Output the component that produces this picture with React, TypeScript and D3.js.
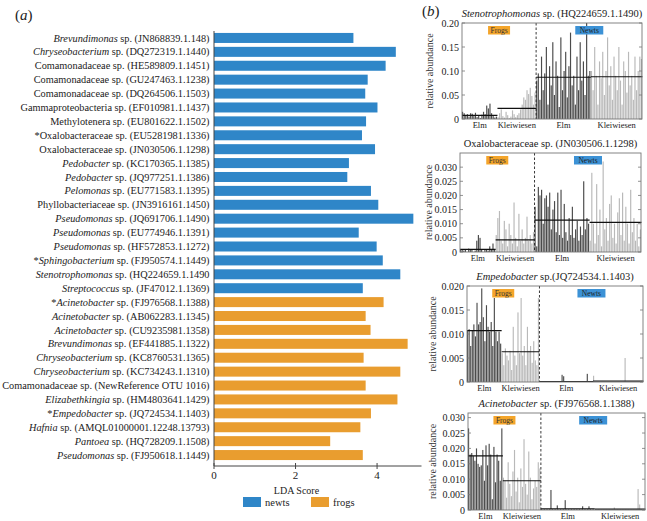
import React from "react";
import * as d3 from "d3";

// ---------- Panel (a) data ----------
const taxonPrefix = ["", "", "", "", "", "", "", "*", "", "", "", "", "", "", "", "", "*", "", "", "*", "", "", "", "", "", "", "", "*", "", "", ""];
const taxonNames = [
  "Brevundimonas", "Chryseobacterium", "Comamonadaceae", "Comamonadaceae", "Comamonadaceae",
  "Gammaproteobacteria", "Methylotenera", "Oxalobacteraceae", "Oxalobacteraceae", "Pedobacter",
  "Pedobacter", "Pelomonas", "Phyllobacteriaceae", "Pseudomonas", "Pseudomonas", "Pseudomonas",
  "Sphingobacterium", "Stenotrophomonas", "Streptococcus",
  "Acinetobacter", "Acinetobacter", "Acinetobacter", "Brevundimonas", "Chryseobacterium",
  "Chryseobacterium", "Comamonadaceae", "Elizabethkingia", "Empedobacter", "Hafnia", "Pantoea", "Pseudomonas",
];
const taxonItalic = [1, 1, 0, 0, 0, 0, 0, 0, 0, 1, 1, 1, 0, 1, 1, 1, 1, 1, 1, 1, 1, 1, 1, 1, 1, 0, 1, 1, 1, 1, 1];
const accessions = [
  "(JN868839.1.148)", "(DQ272319.1.1440)", "(HE589809.1.1451)", "(GU247463.1.1238)", "(DQ264506.1.1503)",
  "(EF010981.1.1437)", "(EU801622.1.1502)", "(EU5281981.1336)", "(JN030506.1.1298)", "(KC170365.1.1385)",
  "(JQ977251.1.1386)", "(EU771583.1.1395)", "(JN3916161.1450)", "(JQ691706.1.1490)", "(EU774946.1.1391)",
  "(HF572853.1.1272)", "(FJ950574.1.1449)", "(HQ224659.1.1490", "(JF47012.1.1369)",
  "(FJ976568.1.1388)", "(AB062283.1.1345)", "(CU9235981.1358)", "(EF441885.1.1322)", "(KC8760531.1365)",
  "(KC734243.1.1310)", "(NewReference OTU 1016)", "(HM4803641.1429)", "(JQ724534.1.1403)",
  "(AMQL01000001.12248.13793)", "(HQ728209.1.1508)", "(FJ950618.1.1449)",
];
const ldaScores = [
  3.42, 4.46, 4.21, 3.77, 3.71, 4.01, 3.73, 3.63, 3.95, 3.31, 3.27, 3.85, 4.03, 4.89, 3.55, 3.99, 4.14, 4.57, 3.65,
  4.16, 3.72, 3.84, 4.75, 3.67, 4.57, 3.72, 4.50, 3.85, 3.59, 2.85, 3.65,
];
const ldaGroup = [
  "newts", "newts", "newts", "newts", "newts", "newts", "newts", "newts", "newts", "newts", "newts", "newts",
  "newts", "newts", "newts", "newts", "newts", "newts", "newts",
  "frogs", "frogs", "frogs", "frogs", "frogs", "frogs", "frogs", "frogs", "frogs", "frogs", "frogs", "frogs",
];
const ldaTicks = [0, 2, 4];
const legendKeys = ["newts", "frogs"];

// ---------- Panel (b) data ----------
const groupNames = ["Elm", "Kleiwiesen", "Elm", "Kleiwiesen"];
const groupSizes = [22, 24, 34, 32];

// Stenotrophomonas sp. (HQ224659.1.1490)
const steno = [
  [0.015, 0.012, 0.008, 0.01, 0.005, 0.012, 0.011, 0.006, 0.013, 0.004, 0.008, 0.002, 0.009, 0.015, 0.01, 0.028, 0.022, 0.032, 0.012, 0.006, 0.003, 0.005],
  [0.004, 0.012, 0.02, 0.006, 0.003, 0.015, 0.008, 0.002, 0.005, 0.018, 0.01, 0.004, 0.008, 0.012, 0.02, 0.03, 0.045, 0.04, 0.06, 0.052, 0.065, 0.048, 0.03, 0.055],
  [0.08, 0.095, 0.04, 0.13, 0.06, 0.095, 0.15, 0.03, 0.11, 0.07, 0.16, 0.05, 0.12, 0.09, 0.025, 0.17, 0.06, 0.1, 0.14, 0.045, 0.11, 0.18, 0.07, 0.09, 0.03, 0.13, 0.06, 0.16, 0.08, 0.12, 0.05, 0.2, 0.09, 0.1],
  [0.1, 0.06, 0.15, 0.09, 0.03, 0.12, 0.085, 0.14, 0.05, 0.1, 0.17, 0.07, 0.11, 0.04, 0.13, 0.09, 0.06, 0.15, 0.08, 0.03, 0.12, 0.1, 0.055, 0.14, 0.07, 0.09, 0.04, 0.13, 0.06, 0.1, 0.13, 0.125],
];
const stenoMeans = [0.0075, 0.022, 0.087, 0.088];

// Oxalobacteraceae sp. (JN030506.1.1298)
const oxalo = [
  [0.001, 0.0008, 0.0005, 0.001, 0, 0.0012, 0.0008, 0.001, 0, 0.0005, 0.004, 0.006, 0.005, 0.001, 0, 0.0008, 0.001, 0.0005, 0.002, 0.001, 0.003, 0.001],
  [0.006, 0.012, 0.0145, 0.004, 0.003, 0.011, 0.008, 0.002, 0.01, 0.006, 0.003, 0.0175, 0.005, 0.002, 0.0135, 0.004, 0.008, 0.003, 0.005, 0.0125, 0.004, 0.006, 0.003, 0.007],
  [0.016, 0.002, 0.023, 0.02, 0.022, 0.01, 0.019, 0.02, 0.016, 0.021, 0.008, 0.015, 0.018, 0.007, 0.021, 0.006, 0.022, 0.005, 0.017, 0.007, 0.004, 0.012, 0.006, 0.016, 0.005, 0.008, 0.011, 0.004, 0.009, 0.006, 0.025, 0.008, 0.012, 0.01],
  [0.004, 0.028, 0.01, 0.003, 0.024, 0.006, 0.015, 0.002, 0.032, 0.008, 0.012, 0.004, 0.017, 0.02, 0.005, 0.01, 0.003, 0.014, 0.019, 0.006, 0.021, 0.004, 0.016, 0.01, 0.003, 0.022, 0.007, 0.012, 0.004, 0.01, 0.002, 0.008],
];
const oxaloMeans = [0.0009, 0.0043, 0.0113, 0.0105];

// Empedobacter sp.(JQ724534.1.1403)
const empedo = [
  [0.0108, 0.011, 0.0075, 0.0108, 0.012, 0.0095, 0.0165, 0.012, 0.0125, 0.0195, 0.0135, 0.0085, 0.016, 0.0115, 0.0105, 0.0125, 0.0075, 0.0175, 0.0105, 0.0085, 0.0105, 0.008],
  [0.006, 0.0035, 0.007, 0.0055, 0.0045, 0.0065, 0.0025, 0.0115, 0.0055, 0.0035, 0.0145, 0.006, 0.0175, 0.0055, 0.0075, 0.0035, 0.0115, 0.0065, 0.0075, 0.004, 0.0085, 0.0045, 0.0035, 0.0175],
  [0, 0, 0, 0, 0, 0, 0, 0, 0, 0, 0, 0, 0, 0, 0.0015, 0.0012, 0, 0, 0, 0, 0, 0, 0, 0, 0, 0, 0, 0, 0, 0, 0.0017, 0, 0, 0],
  [0.0013, 0, 0, 0, 0, 0, 0, 0, 0, 0, 0, 0, 0, 0, 0, 0, 0, 0, 0, 0, 0.005, 0, 0, 0, 0, 0, 0, 0, 0, 0, 0, 0],
];
const empedoMeans = [0.0107, 0.0063, 0.0001, 0.0002];

// Acinetobacter sp. (FJ976568.1.1388)
const acineto = [
  [0.0265, 0.018, 0.0185, 0.0175, 0.016, 0.02, 0.015, 0.014, 0.0145, 0.0195, 0.0095, 0.021, 0.0145, 0.0215, 0.018, 0.0035, 0.0205, 0.009, 0.018, 0.016, 0.0095, 0.0265],
  [0.0105, 0.0095, 0.004, 0.0155, 0.0085, 0.0045, 0.0125, 0.0195, 0.006, 0.0105, 0.0025, 0.0135, 0.0075, 0.023, 0.0085, 0.005, 0.019, 0.0105, 0.0035, 0.007, 0.0095, 0.0075, 0.0155, 0.0135],
  [0.0003, 0.0003, 0.0003, 0.0003, 0.0003, 0.0003, 0.0065, 0.0003, 0.0003, 0.0003, 0.0015, 0.0003, 0.0003, 0.0003, 0.0003, 0.0032, 0.0003, 0.0003, 0.0003, 0.0003, 0.0003, 0.0003, 0.0003, 0.0003, 0.0003, 0.0003, 0.0012, 0.0003, 0.0003, 0.0003, 0.0012, 0.0003, 0.0003, 0.0003],
  [0.0002, 0.0002, 0.0002, 0.0002, 0.0002, 0.0002, 0.0002, 0.0002, 0.0002, 0.0002, 0.0002, 0.0002, 0.0008, 0.0002, 0.0002, 0.0002, 0.0002, 0.0002, 0.0002, 0.0002, 0.0002, 0.0002, 0.0002, 0.0002, 0.0002, 0.0002, 0.0002, 0.0068, 0.0018, 0.0002, 0.0002, 0.0002],
];
const acinetoMeans = [0.0176, 0.0095, 0.0004, 0.0003];

const stenoTicks = [0, 0.05, 0.1, 0.15, 0.2];
const oxaloTicks = [0, 0.005, 0.01, 0.015, 0.02, 0.025, 0.03];
const empedoTicks = [0, 0.005, 0.01, 0.015, 0.02];
const acinetoTicks = [0, 0.005, 0.01, 0.015, 0.02, 0.025, 0.03];

const BLUE = "#2f86c8";
const ORANGE = "#e99d2f";
const DARK = "#4b4b4b";
const LIGHT = "#b9b9b9";
const FONT = "Liberation Serif, Times New Roman, Times, DejaVu Serif, serif";

type PanelProps = {
  titleItalic: string;
  titleRest: string;
  data: number[][];
  means: number[];
  ticks: number[];
  tickFmt: (v: number) => string;
  ymax: number;
  left: number;
  right: number;
  top: number;
  bottom: number;
  ylabelX: number;
};

function AbundancePanel(p: PanelProps) {
  const flat: { v: number; g: number; i: number }[] = [];
  p.data.forEach((arr, g) => arr.forEach((v) => flat.push({ v, g, i: flat.length })));
  const x = d3.scaleBand<number>().domain(flat.map((d) => d.i)).range([p.left, p.right]).paddingInner(0.28);
  const y = d3.scaleLinear().domain([0, p.ymax]).range([p.bottom, p.top]);
  const step = x.step();
  const starts: number[] = [];
  let acc = 0;
  groupSizes.forEach((s) => { starts.push(acc); acc += s; });
  const gx0 = (g: number) => p.left + starts[g] * step;
  const gx1 = (g: number) => p.left + (starts[g] + groupSizes[g]) * step;
  const divX = gx0(2);
  const cy = (p.top + p.bottom) / 2;
  const frogsCx = (gx0(0) + gx1(1)) / 2;
  const newtsCx = (gx0(2) + gx1(3)) / 2;
  return (
    <g>
      <text x={(p.left + p.right) / 2} y={p.top - 6} textAnchor="middle" fontSize={10.5} fontFamily={FONT} fill="#222">
        {p.titleItalic ? <tspan fontStyle="italic">{p.titleItalic}</tspan> : null}
        <tspan>{p.titleRest}</tspan>
      </text>
      {flat.map((d) => (
        <rect key={d.i} x={x(d.i)} y={y(d.v)} width={x.bandwidth()} height={p.bottom - y(d.v)}
          fill={d.g % 2 === 0 ? DARK : LIGHT} />
      ))}
      {p.means.map((m, g) => (
        <line key={g} x1={gx0(g)} x2={gx1(g)} y1={y(m)} y2={y(m)} stroke="#111" strokeWidth={1.2} />
      ))}
      <line x1={divX} x2={divX} y1={p.top} y2={p.bottom} stroke="#222" strokeWidth={0.9} strokeDasharray="2.5,2" />
      <rect x={p.left} y={p.top} width={p.right - p.left} height={p.bottom - p.top} fill="none" stroke="#777" strokeWidth={0.9} />
      {p.ticks.map((t) => (
        <g key={t}>
          <line x1={p.left} x2={p.left + 3} y1={y(t)} y2={y(t)} stroke="#777" strokeWidth={0.8} />
          <line x1={p.right - 3} x2={p.right} y1={y(t)} y2={y(t)} stroke="#777" strokeWidth={0.8} />
          <text x={p.left - 3} y={y(t)} dy="0.35em" textAnchor="end" fontSize={10} fontFamily={FONT} fill="#222">{p.tickFmt(t)}</text>
        </g>
      ))}
      <rect x={frogsCx - 11} y={p.top + 3} width={22} height={8.5} fill="#f4a52a" />
      <text x={frogsCx} y={p.top + 7.3} dy="0.35em" textAnchor="middle" fontSize={7.5} fontFamily={FONT} fill="#333">Frogs</text>
      <rect x={newtsCx - 14} y={p.top + 3} width={28} height={8.5} fill="#3c92d6" />
      <text x={newtsCx} y={p.top + 7.3} dy="0.35em" textAnchor="middle" fontSize={7.5} fontFamily={FONT} fill="#222">Newts</text>
      {groupNames.map((n, g) => (
        <text key={g} x={(gx0(g) + gx1(g)) / 2} y={p.bottom + 6.5} dy="0.35em" textAnchor="middle" fontSize={8.5} fontFamily={FONT} fill="#222">{n}</text>
      ))}
      <text transform={`translate(${p.ylabelX},${cy}) rotate(-90)`} textAnchor="middle" dy="0.35em" fontSize={10} fontFamily={FONT} fill="#333">relative abundance</text>
    </g>
  );
}

export default function App() {
  const idx = ldaScores.map((_, i) => i);
  const yb = d3.scaleBand<number>().domain(idx).range([31, 462]).paddingInner(0.28).paddingOuter(0.14);
  const xl = d3.scaleLinear().domain([0, 5.09]).range([214, 421.5]);
  const color = d3.scaleOrdinal<string, string>().domain(legendKeys).range([BLUE, ORANGE]);
  const fmt3 = (v: number) => (v === 0 ? "0" : d3.format(".3f")(v));
  const fmt2 = (v: number) => (v === 0 ? "0" : d3.format(".2f")(v));
  const axisY = 466;
  return (
    <svg width={647} height={521} style={{ position: "absolute", left: 0, top: 0, background: "#fff" }}>
      <text x={15} y={20} fontSize={15} fontFamily={FONT} fill="#222">(<tspan fontStyle="italic">a</tspan>)</text>
      <text x={422} y={16} fontSize={15} fontFamily={FONT} fill="#222">(<tspan fontStyle="italic">b</tspan>)</text>
      {idx.map((i) => (
        <g key={i}>
          <rect x={xl(0)} y={yb(i)} width={xl(ldaScores[i]) - xl(0)} height={yb.bandwidth()} fill={color(ldaGroup[i])} />
          <text x={209.5} y={(yb(i) as number) + yb.bandwidth() / 2} dy="0.35em" textAnchor="end" fontSize={10.3} fontFamily={FONT} fill="#222">
            {taxonPrefix[i]}
            {taxonItalic[i] ? <tspan fontStyle="italic">{taxonNames[i]}</tspan> : <tspan>{taxonNames[i]}</tspan>}
            <tspan>{" sp. " + accessions[i]}</tspan>
          </text>
        </g>
      ))}
      <line x1={xl(0)} x2={xl(0)} y1={31} y2={axisY} stroke="#444" strokeWidth={1} />
      <line x1={xl(0)} x2={xl.range()[1]} y1={axisY} y2={axisY} stroke="#444" strokeWidth={1} />
      {ldaTicks.map((t) => (
        <g key={t}>
          <line x1={xl(t)} x2={xl(t)} y1={axisY - 3} y2={axisY + 3} stroke="#444" strokeWidth={1} />
          <text x={xl(t)} y={axisY + 9} dy="0.35em" textAnchor="middle" fontSize={11} fontFamily={FONT} fill="#222">{t}</text>
        </g>
      ))}
      <text x={296.5} y={490} dy="0.35em" textAnchor="middle" fontSize={10} fontFamily={FONT} fill="#222">LDA Score</text>
      {legendKeys.map((k, i) => (
        <g key={k}>
          <rect x={243 + i * 68} y={497} width={18} height={10} fill={color(k)} />
          <text x={265 + i * 68} y={502} dy="0.35em" fontSize={10.5} fontFamily={FONT} fill="#222">{k}</text>
        </g>
      ))}

      <AbundancePanel titleItalic="Stenotrophomonas" titleRest=" sp.  (HQ224659.1.1490)" data={steno} means={stenoMeans}
        ticks={stenoTicks} tickFmt={fmt2} ymax={0.2} left={462} right={642} top={23} bottom={119} ylabelX={429} />
      <AbundancePanel titleItalic="" titleRest="Oxalobacteraceae sp. (JN030506.1.1298)" data={oxalo} means={oxaloMeans}
        ticks={oxaloTicks} tickFmt={fmt3} ymax={0.035} left={460} right={641} top={153} bottom={252} ylabelX={428} />
      <AbundancePanel titleItalic="Empedobacter" titleRest=" sp.(JQ724534.1.1403)" data={empedo} means={empedoMeans}
        ticks={empedoTicks} tickFmt={fmt3} ymax={0.02} left={467} right={643} top={286} bottom={382} ylabelX={432} />
      <AbundancePanel titleItalic="Acinetobacter" titleRest=" sp. (FJ976568.1.1388)" data={acineto} means={acinetoMeans}
        ticks={acinetoTicks} tickFmt={fmt3} ymax={0.0315} left={468} right={645} top={413} bottom={510} ylabelX={432} />
    </svg>
  );
}
